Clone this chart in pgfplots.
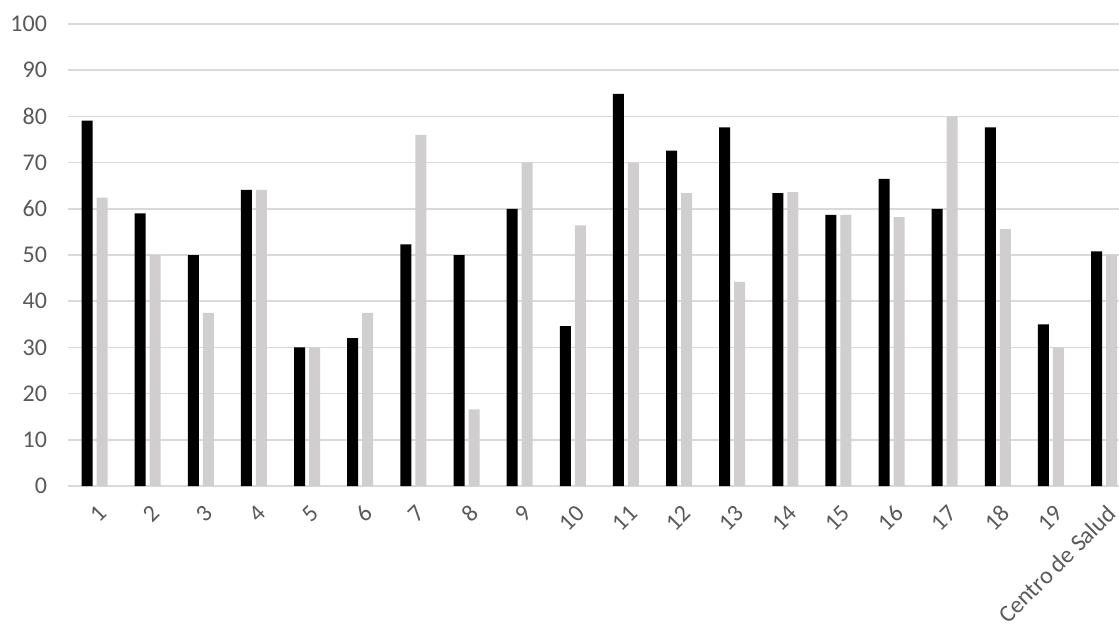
\documentclass[border=0pt]{standalone}
\usepackage{pgfplots}
\pgfplotsset{compat=1.18}
\usepackage{fontspec}
\setmainfont{Carlito}
\definecolor{lg}{RGB}{208,206,206}
\definecolor{gridc}{RGB}{217,217,217}
\definecolor{txt}{RGB}{89,89,89}
\begin{document}
\begin{tikzpicture}
\begin{axis}[
  at={(0,0)}, anchor=south west,
  scale only axis, width=525.5pt, height=231pt,
  xmin=-0.5, xmax=19.28, ymin=0, ymax=100,
  ytick={0,10,...,100},
  xtick={0,...,19},
  xticklabels={1,2,3,4,5,6,7,8,9,10,11,12,13,14,15,16,17,18,19,Centro de Salud},
  ymajorgrids, major grid style={gridc, line width=0.8pt},
  axis line style={draw=none},
  tick style={draw=none},
  /pgf/number format/assume math mode=true,
  ticklabel style={font=\fontsize{12}{14}\selectfont, text=txt},
  xticklabel style={rotate=45, anchor=east, xshift=1pt, yshift=-8pt},
  yticklabel style={anchor=east, xshift=-7pt},
  ybar, bar width=5.5pt,
  clip=true,
]
\addplot[fill=black, draw=none, bar shift=-3.75pt] coordinates {
(0,79.1) (1,59.0) (2,50) (3,64.1) (4,30) (5,32.0) (6,52.3) (7,50) (8,60) (9,34.6)
(10,84.9) (11,72.6) (12,77.6) (13,63.4) (14,58.7) (15,66.5) (16,60) (17,77.6) (18,35.0) (19,50.8)};
\addplot[fill=lg, draw=none, bar shift=3.75pt] coordinates {
(0,62.4) (1,50) (2,37.5) (3,64.1) (4,30) (5,37.5) (6,76.0) (7,16.6) (8,70) (9,56.4)
(10,70) (11,63.4) (12,44.2) (13,63.6) (14,58.7) (15,58.2) (16,80) (17,55.6) (18,30) (19,50.1)};
\end{axis}
\pgfresetboundingbox
\path[use as bounding box] (-34pt,-70.5pt) rectangle (525.5pt,243pt);
\end{tikzpicture}
\end{document}
